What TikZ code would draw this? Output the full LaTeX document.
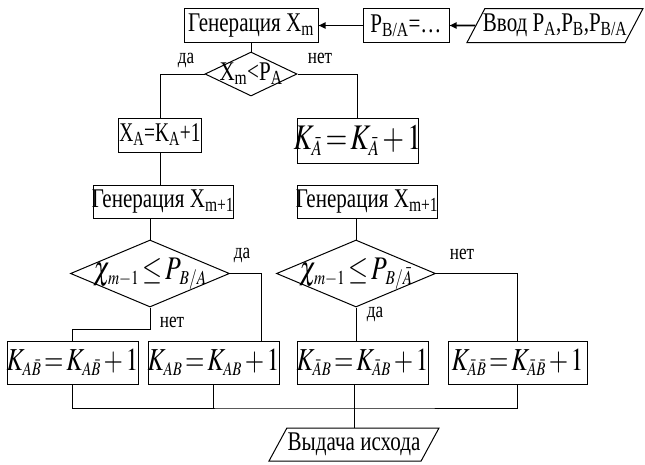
\documentclass[tikz,border=0pt]{standalone}
\usepackage{mathptmx}
\usepackage{fontspec}
\setmainfont{Liberation Serif}
\newfontfamily\tnr{Liberation Serif}
\usepackage{graphicx}
\usetikzlibrary{arrows.meta,shapes.geometric}

% text squeezed like in the original figure
\newcommand{\zw}[1]{\makebox[0pt]{\scalebox{0.78}[1]{#1}}}
\newcommand{\fs}[1]{\fontsize{#1}{#1}\selectfont}
\newcommand{\sub}[1]{_{\scriptscriptstyle #1}}
\newcommand{\tight}{\thickmuskip=2mu \medmuskip=2mu}

\tikzset{
  blok/.style={draw, rectangle, inner sep=0pt, line width=1pt},
  usl/.style={draw, diamond, aspect=1, inner sep=0pt, line width=1pt},
  vvodvyvod/.style={draw, trapezium, trapezium left angle=52, trapezium right angle=128,
    trapezium stretches body, inner sep=0pt, line width=1pt},
  lin/.style={line width=1pt},
  strel/.style={line width=1.8pt, -{Triangle[length=7pt,width=6pt]}},
  metka/.style={font=\tnr\fs{22}, inner sep=0pt, anchor=base},
  formula/.style={execute at begin node=\tight},
}

\begin{document}
\begin{tikzpicture}[x=1pt, y=-1pt, font=\tnr\fs{27}]
\useasboundingbox (0,0) rectangle (645,464);

% top row
\node[blok, minimum width=134, minimum height=34] (gen0) at (251,25.5) {\zw{Генерация X\textsubscript{m}}};
\node[blok, minimum width=86, minimum height=34] (pba) at (406,25.5) {\zw{P\textsubscript{B/A}=\ldots}};
\node[vvodvyvod, minimum width=176, minimum height=34] (vvod) at (555,25.5) {\zw{Ввод P\textsubscript{A},P\textsubscript{B},P\textsubscript{B/A}}};

\node[usl, minimum width=92, minimum height=44] (dia0) at (251,74) {\zw{X\textsubscript{m}<P\textsubscript{A}}};

\node[blok, minimum width=83, minimum height=34] (xa) at (160,135) {\makebox[0pt]{\scalebox{0.72}[1]{X\textsubscript{A}=K\textsubscript{A}+1}}};
\node[blok, formula, minimum width=121, minimum height=45] (ka) at (357.5,140.5) {\zw{\fs{36}$K\sub{\bar A}=K\sub{\bar A}+1$}};

\node[blok, minimum width=140, minimum height=33] (gen1) at (163,201.5) {\zw{Генерация X\textsubscript{m+1}}};
\node[blok, minimum width=140, minimum height=33] (gen2) at (367,201.5) {\zw{Генерация X\textsubscript{m+1}}};

\node[usl, formula, minimum width=159, minimum height=67] (dia1) at (150,273.5) {\zw{\fs{33}$\chi\sub{m-1}\le P_{\;\scriptscriptstyle B/A}$}};
\node[usl, formula, minimum width=159, minimum height=67] (dia2) at (356,273.5) {\zw{\fs{33}$\chi\sub{m-1}\le P_{\;\scriptscriptstyle B/\bar A}$}};

% results
\node[blok, formula, minimum width=131, minimum height=43] (b1) at (72.5,362.5) {\zw{\fs{32}$K\sub{A\bar B}=K\sub{A\bar B}+1$}};
\node[blok, formula, minimum width=131, minimum height=43] (b2) at (213.5,362.5) {\zw{\fs{32}$K\sub{AB}=K\sub{AB}+1$}};
\node[blok, formula, minimum width=131, minimum height=43] (b3) at (362.5,362.5) {\zw{\fs{32}$K\sub{\bar AB}=K\sub{\bar AB}+1$}};
\node[blok, formula, minimum width=139, minimum height=43] (b4) at (517.5,362.5) {\zw{\fs{32}$K\sub{\bar A\bar B}=K\sub{\bar A\bar B}+1$}};

\node[vvodvyvod, minimum width=170, minimum height=33] (out) at (354,444.5) {\zw{Выдача исхода}};
\coordinate (sb) at (354,408);

% labels
\node[metka] (l1) at (186,63) {\zw{да}};
\node[metka] (l2) at (320,63) {\zw{нет}};
\node[metka] (l3) at (242,258) {\zw{да}};
\node[metka] (l4) at (172,327) {\zw{нет}};
\node[metka] (l5) at (462,259) {\zw{нет}};
\node[metka] (l6) at (375,317) {\zw{да}};

% connectors
\draw[strel] (vvod) -- (pba);
\draw[strel] (pba) -- (gen0);
\draw[lin] (gen0) -- (dia0);
\draw[lin] (dia0.west) -| (xa.north);
\draw[lin] (dia0.east) -| (ka.north);
\draw[lin] (xa.south) -- (xa.south |- gen1.north);
\draw[lin] (gen1.south -| dia1.north) -- (dia1.north);
\draw[lin] (gen2.south -| dia2.north) -- (dia2.north);
\draw[lin] (dia1.east) -| ([xshift=47.5pt]b2.north);
\draw[lin] (dia1.south) -- ++(0,22) -| (b1.north);
\draw[lin] (dia2.east) -| (b4.north);
\draw[lin] (dia2.south) -- (dia2.south |- b3.north);
\draw[lin] (b1.south) |- (sb) -| (b4.south);
\draw[lin] (b2.south) -- (b2.south |- sb);
\draw[lin] (b3.south -| out.north) -- (out.north);

\end{tikzpicture}
\end{document}
